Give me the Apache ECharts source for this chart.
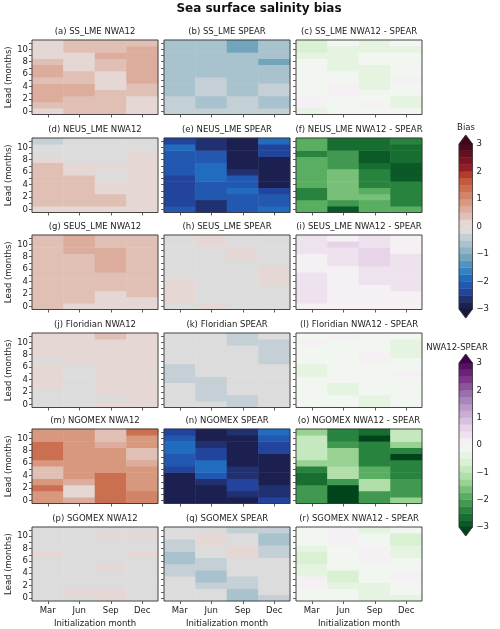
<!DOCTYPE html>
<html><head><meta charset="utf-8">
<script src="https://cdn.jsdelivr.net/npm/echarts@6/dist/echarts.min.js"></script>
<style>html,body{margin:0;padding:0;background:#fff}#c{width:500px;height:629px}</style>
</head><body><div id="c"></div>
<script>
// ---------------- data ----------------
const months = ['Mar', 'Jun', 'Sep', 'Dec'];
const leads = [0, 1, 2, 3, 4, 5, 6, 7, 8, 9, 10, 11];
const regions = ['SS_LME', 'NEUS_LME', 'SEUS_LME', 'Floridian', 'NGOMEX', 'SGOMEX'];
const letters = ['a','b','c','d','e','f','g','h','i','j','k','l','m','n','o','p','q','r'];
const colorbarTicks = [-3, -2, -1, 0, 1, 2, 3];

// each panel: one array per initialization month (Mar, Jun, Sep, Dec), values for lead 0..11
const ssNwa12 = [
  [0.1,0.35,0.6,0.6,0.6,0.35,0.6,0.6,0.35,0.1,0.1,0.1],
  [0.35,0.35,0.35,0.6,0.6,0.35,0.35,0.1,0.1,0.1,0.35,0.35],
  [0.35,0.35,0.35,0.35,0.1,0.1,0.1,0.35,0.35,0.6,0.35,0.35],
  [0.1,0.1,0.1,0.35,0.35,0.6,0.6,0.6,0.6,0.6,0.6,0.35]];
const ssSpear = [
  [-0.4,-0.4,-0.4,-0.6,-0.6,-0.6,-0.6,-0.6,-0.6,-0.6,-0.6,-0.6],
  [-0.4,-0.6,-0.6,-0.4,-0.4,-0.4,-0.6,-0.6,-0.6,-0.6,-0.6,-0.6],
  [-0.4,-0.4,-0.4,-0.6,-0.6,-0.6,-0.6,-0.6,-0.6,-0.6,-1.1,-1.1],
  [-0.4,-0.6,-0.6,-0.4,-0.4,-0.6,-0.6,-0.6,-1.1,-0.6,-0.6,-0.6]];
const ssDiff = [
  [-0.4,0.1,0.1,-0.1,-0.1,-0.1,-0.1,-0.1,-0.1,-0.3,-0.6,-0.6],
  [-0.1,-0.1,-0.1,0.1,0.1,-0.1,-0.1,-0.3,-0.3,-0.3,-0.3,-0.1],
  [-0.1,0.1,-0.1,-0.1,-0.3,-0.3,-0.3,-0.3,-0.1,-0.1,-0.3,-0.3],
  [-0.1,-0.4,-0.4,-0.1,-0.1,0.1,-0.1,-0.1,-0.1,-0.1,-0.3,-0.1]];
const neusNwa12 = [
  [0.1,0.35,0.35,0.35,0.35,0.35,0.35,0.35,0.1,-0.1,-0.1,-0.4],
  [0.1,0.35,0.35,0.35,0.35,0.35,0.1,0.1,-0.1,-0.1,-0.1,-0.1],
  [0.1,0.35,0.35,0.1,0.1,-0.1,-0.1,0.1,-0.1,-0.1,-0.1,-0.1],
  [0.1,0.1,0.1,0.1,0.1,0.1,0.1,0.1,0.1,0.1,-0.1,-0.1]];
const neusSpear = [
  [-2.1,-2.4,-2.4,-2.4,-2.4,-2.4,-2.1,-2.1,-2.1,-2.1,-1.9,-2.4],
  [-2.6,-2.6,-2.1,-2.1,-2.1,-1.9,-1.9,-1.9,-2.1,-2.1,-2.6,-2.6],
  [-2.1,-2.1,-2.1,-1.9,-2.1,-2.1,-2.6,-2.9,-2.9,-2.9,-2.9,-2.9],
  [-1.9,-2.1,-2.1,-2.4,-2.9,-2.9,-2.9,-2.9,-2.9,-2.4,-2.4,-1.9]];
const neusDiff = [
  [-1.9,-1.9,-2.3,-2.3,-2.0,-2.0,-2.0,-2.0,-2.0,-2.3,-1.9,-1.9],
  [-2.9,-2.1,-1.6,-1.6,-1.6,-1.6,-1.6,-2.1,-2.1,-2.1,-2.6,-2.6],
  [-2.0,-2.0,-1.6,-2.0,-2.3,-2.3,-2.3,-2.6,-2.9,-2.9,-2.6,-2.6],
  [-2.0,-2.3,-2.3,-2.3,-2.3,-2.9,-2.9,-2.9,-2.6,-2.6,-2.6,-2.3]];
const seusNwa12 = [
  [0.35,0.35,0.35,0.35,0.35,0.35,0.35,0.35,0.35,0.35,0.35,0.35],
  [0.1,0.35,0.35,0.35,0.35,0.35,0.35,0.35,0.35,0.6,0.6,0.6],
  [0.1,0.1,0.1,0.35,0.35,0.35,0.6,0.6,0.6,0.6,0.35,0.35],
  [0.1,0.1,0.35,0.35,0.35,0.35,0.35,0.35,0.35,0.35,0.35,0.35]];
const seusSpear = [
  [-0.1,0.1,0.1,0.1,0.1,-0.1,-0.1,-0.1,-0.1,-0.1,-0.1,-0.1],
  [0.1,-0.1,-0.1,-0.1,-0.1,-0.1,-0.1,-0.1,-0.1,-0.1,0.1,0.1],
  [-0.1,-0.1,-0.1,-0.1,-0.1,-0.1,-0.1,-0.1,0.1,0.1,-0.1,-0.1],
  [-0.1,-0.1,-0.1,-0.1,0.1,0.1,0.1,-0.1,-0.1,-0.1,-0.1,-0.1]];
const seusDiff = [
  [0.1,0.35,0.35,0.35,0.35,0.35,0.1,0.1,0.1,0.35,0.35,0.35],
  [0.1,0.1,0.1,0.1,0.1,0.1,0.1,0.35,0.35,0.35,0.6,0.1],
  [0.1,0.1,0.1,0.1,0.35,0.35,0.35,0.6,0.6,0.6,0.35,0.35],
  [0.1,0.1,0.1,0.35,0.35,0.35,0.35,0.35,0.35,0.1,0.1,0.1]];
const florNwa12 = [
  [-0.1,-0.1,-0.1,0.1,0.1,0.1,0.1,-0.1,0.1,0.1,0.1,0.1],
  [-0.1,-0.1,-0.1,-0.1,-0.1,-0.1,-0.1,0.1,0.1,0.1,0.1,0.1],
  [0.1,-0.1,0.1,0.1,0.1,0.1,0.1,0.1,0.1,0.1,0.1,0.35],
  [0.1,0.1,0.1,0.1,0.1,0.1,0.1,0.1,0.1,0.1,0.1,0.1]];
const florSpear = [
  [-0.1,-0.1,-0.1,-0.1,-0.4,-0.4,-0.4,-0.1,-0.1,-0.1,-0.1,-0.1],
  [-0.1,-0.4,-0.4,-0.4,-0.4,-0.1,-0.1,-0.1,-0.1,-0.1,-0.1,-0.1],
  [-0.4,-0.4,-0.1,-0.1,-0.1,-0.1,-0.1,-0.1,-0.1,-0.1,-0.4,-0.4],
  [-0.1,-0.1,-0.1,-0.1,-0.1,-0.1,-0.1,-0.4,-0.4,-0.4,-0.4,-0.1]];
const florDiff = [
  [-0.1,-0.1,-0.1,-0.1,-0.1,-0.35,-0.35,-0.1,-0.1,-0.1,0.1,-0.1],
  [-0.1,-0.1,-0.35,-0.35,-0.1,-0.1,-0.1,-0.1,-0.1,-0.1,-0.1,0.1],
  [-0.35,-0.35,-0.1,-0.1,-0.1,-0.1,-0.1,0.1,0.1,-0.1,-0.1,-0.1],
  [-0.1,-0.1,-0.1,-0.1,-0.1,0.1,-0.1,-0.1,-0.35,-0.35,-0.35,-0.1]];
const ngomNwa12 = [
  [0.9,0.9,1.3,0.9,0.35,0.35,0.9,1.3,1.3,1.3,0.9,0.9],
  [0.6,0.1,0.1,0.6,0.9,0.9,0.9,0.9,0.9,0.9,0.9,0.9],
  [1.3,1.3,1.3,1.3,1.3,0.9,0.9,0.9,0.9,0.6,0.35,0.35],
  [1.1,1.1,0.9,0.9,0.9,0.9,0.6,0.35,0.35,0.9,0.9,1.3]];
const ngomSpear = [
  [-2.9,-2.9,-2.9,-2.9,-2.9,-2.4,-2.1,-2.1,-1.8,-1.8,-2.1,-2.4],
  [-2.9,-2.9,-2.9,-2.6,-2.1,-1.9,-1.9,-2.4,-2.4,-2.6,-2.9,-2.9],
  [-2.9,-2.6,-2.4,-2.4,-2.6,-2.6,-2.9,-2.9,-2.9,-2.9,-2.9,-2.6],
  [-2.3,-2.6,-2.6,-2.9,-2.9,-2.9,-2.9,-2.9,-2.4,-2.4,-2.1,-1.8]];
const ngomDiff = [
  [-2.1,-2.1,-2.1,-2.6,-2.6,-2.3,-1.4,-0.9,-0.9,-0.9,-0.9,-1.3],
  [-3.1,-3.1,-3.1,-2.1,-1.1,-1.1,-1.4,-1.4,-1.4,-2.1,-2.4,-2.4],
  [-2.2,-2.2,-1.1,-1.1,-1.9,-1.9,-2.3,-2.3,-2.5,-2.5,-3.1,-2.6],
  [-1.5,-2.1,-2.1,-2.1,-2.3,-2.3,-2.5,-3.1,-2.5,-1.3,-1.0,-1.0]];
const sgomNwa12 = [
  [-0.1,-0.1,-0.1,-0.1,-0.1,-0.1,-0.1,0.1,-0.1,-0.1,-0.1,-0.1],
  [-0.1,0.1,-0.1,-0.1,-0.1,-0.1,-0.1,-0.1,-0.1,-0.1,-0.1,-0.1],
  [0.1,0.1,-0.1,-0.1,-0.1,0.1,-0.1,-0.1,-0.1,-0.1,0.1,-0.1],
  [-0.1,-0.1,-0.1,-0.1,-0.1,-0.1,-0.1,0.1,-0.1,-0.1,0.1,-0.1]];
const sgomSpear = [
  [-0.1,-0.1,-0.1,-0.1,-0.4,-0.4,-0.7,-0.7,-0.4,-0.4,-0.1,-0.1],
  [-0.1,-0.1,-0.4,-0.7,-0.7,-0.4,-0.4,-0.1,-0.1,0.1,0.1,-0.1],
  [-0.7,-0.7,-0.4,-0.4,-0.1,-0.1,-0.1,0.1,0.1,-0.1,-0.1,-0.4],
  [-0.4,-0.1,-0.1,-0.1,-0.1,-0.1,-0.1,-0.4,-0.4,-0.7,-0.7,-0.4]];
const sgomDiff = [
  [-0.1,-0.1,0.1,0.1,-0.35,-0.35,-0.6,-0.6,-0.35,-0.1,-0.1,-0.1],
  [-0.1,-0.1,-0.35,-0.6,-0.6,-0.1,-0.1,-0.1,-0.1,0.1,0.1,0.1],
  [-0.35,-0.35,-0.35,-0.1,-0.1,-0.1,0.1,0.1,0.1,-0.1,-0.1,-0.35],
  [-0.35,-0.1,-0.1,0.1,0.1,-0.1,-0.1,-0.35,-0.35,-0.6,-0.6,-0.1]];

const panelRows = [
  [ssNwa12, ssSpear, ssDiff],
  [neusNwa12, neusSpear, neusDiff],
  [seusNwa12, seusSpear, seusDiff],
  [florNwa12, florSpear, florDiff],
  [ngomNwa12, ngomSpear, ngomDiff],
  [sgomNwa12, sgomSpear, sgomDiff]];
const columnSuffix = ['NWA12', 'SPEAR', 'NWA12 - SPEAR'];

// ---------------- styles ----------------
const FONT = 'DejaVu Sans';
const biasBins = ['#1c2050','#203070','#22449c','#2258b0','#226cc0','#3482c4','#5094c0','#72a4bc',
  '#90b4c4','#a8c2ce','#c4d0d6','#dcdcdc','#e5d7d3','#e0c0b4','#dcac9c','#d8987e','#d28468',
  '#ca7050','#c45a3c','#b03e2e','#961c28','#7c1424','#64101f','#4a0c1c'];
const biasUnder = '#161a3a', biasOver = '#3a0a1a';
const prgnAnchors = ['#40004b','#762a83','#9970ab','#c2a5cf','#e7d4e8','#f7f7f7','#d9f0d3','#a6dba0','#5aae61','#1b7837','#00441b'];
function hex2rgb(h){return [parseInt(h.slice(1,3),16),parseInt(h.slice(3,5),16),parseInt(h.slice(5,7),16)];}
function prgnR(t){ // reversed PRGn: 0 -> green, 1 -> purple
  const u = (1 - t) * 10; const i = Math.min(9, Math.floor(u)); const f = u - i;
  const a = hex2rgb(prgnAnchors[i]), b = hex2rgb(prgnAnchors[i+1]);
  return 'rgb(' + a.map((v,j)=>Math.round(v + (b[j]-v)*f)).join(',') + ')';
}
const diffBins = []; for (let k = 0; k < 24; k++) diffBins.push(prgnR((k+1)/25));
const diffUnder = prgnR(0), diffOver = prgnR(1);

function makePieces(bins, under, over){
  const p = [{lt: -3, color: under}];
  for (let k = 0; k < 24; k++) p.push({gte: -3 + 0.25*k, lt: -3 + 0.25*(k+1), color: bins[k]});
  p.push({gte: 3, color: over});
  return p;
}

const colLeft = [32, 164, 296];
const panelW = 126;
const rowTop = [40, 138, 235, 333, 429, 527];
const panelH = 74.5;

const grids = [], xAxes = [], yAxes = [], series = [], titles = [];
const biasIdx = [], diffIdx = [];
titles.push({text: 'Sea surface salinity bias', left: 259, top: 3, textAlign: 'center', padding: 0,
  textStyle: {fontSize: 12, fontWeight: 'bold', color: '#111', fontFamily: FONT}});

for (let r = 0; r < 6; r++) {
  for (let c = 0; c < 3; c++) {
    const gi = r*3 + c;
    grids.push({left: colLeft[c], top: rowTop[r], width: panelW, height: panelH, show: true,
      borderColor: '#333', borderWidth: 0.9, backgroundColor: 'transparent', z: 5});
    const lastRow = r === 5;
    xAxes.push({type: 'category', gridIndex: gi, data: months,
      axisLine: {show: false},
      axisTick: {show: true, alignWithLabel: true, interval: 0, length: 3, lineStyle: {color: '#333', width: 0.8}},
      axisLabel: {show: lastRow, fontSize: 8.5, margin: 5, color: '#222', fontFamily: FONT},
      splitLine: {show: false},
      name: lastRow ? 'Initialization month' : '', nameLocation: 'middle', nameGap: 18,
      nameTextStyle: {fontSize: 8.5, color: '#222', fontFamily: FONT}});
    yAxes.push({type: 'category', gridIndex: gi, data: leads,
      axisLine: {show: false},
      axisTick: {show: true, alignWithLabel: true, interval: 0, length: 3, lineStyle: {color: '#333', width: 0.8}},
      axisLabel: {show: c === 0, interval: 1, fontSize: 8.5, margin: 4, color: '#222', fontFamily: FONT},
      splitLine: {show: false},
      name: c === 0 ? 'Lead (months)' : '', nameLocation: 'middle', nameGap: 19,
      nameTextStyle: {fontSize: 8.5, color: '#222', fontFamily: FONT}});
    const arr = panelRows[r][c];
    const data = [];
    for (let m = 0; m < months.length; m++)
      for (let l = 0; l < leads.length; l++) data.push([m, l, arr[m][l]]);
    (c === 2 ? diffIdx : biasIdx).push(series.length);
    series.push({type: 'heatmap', xAxisIndex: gi, yAxisIndex: gi, data: data, silent: true,
      itemStyle: {borderWidth: 0}, emphasis: {disabled: true}});
    titles.push({text: '(' + letters[gi] + ') ' + regions[r] + ' ' + columnSuffix[c],
      left: colLeft[c] + panelW/2, top: rowTop[r] - 13, textAlign: 'center', padding: 0,
      textStyle: {fontSize: 8.5, fontWeight: 'normal', color: '#222', fontFamily: FONT}});
  }
}

// colorbars
const EXT = 0.33;
function addColorbar(gi, top, height, bins, under, over){
  grids.push({left: 459, top: top, width: 13.5, height: height, show: false});
  xAxes.push({type: 'value', gridIndex: gi, min: 0, max: 1, show: false});
  yAxes.push({type: 'value', gridIndex: gi, min: -3, max: 3, interval: 1, position: 'right',
    axisLine: {show: false}, splitLine: {show: false},
    axisTick: {show: true, length: 3.5, lineStyle: {color: '#333', width: 0.8}},
    axisLabel: {fontSize: 8.5, margin: 4, color: '#222', fontFamily: FONT,
      formatter: v => (colorbarTicks.indexOf(v) >= 0 ? String(v).replace('-', '\u2212') : '')}});
  const binData = [];
  for (let k = 0; k < 24; k++) binData.push([-3 + 0.25*k, -3 + 0.25*(k+1), k]);
  binData.push([-3, -3 - EXT, -1]);
  binData.push([3, 3 + EXT, 24]);
  series.push({type: 'custom', xAxisIndex: gi, yAxisIndex: gi, clip: false, silent: true, z: 3,
    data: binData,
    renderItem: function(params, api){
      const lo = api.value(0), hi = api.value(1), k = api.value(2);
      if (k >= 0 && k < 24) {
        const a = api.coord([0, hi]), b = api.coord([1, lo]);
        return {type: 'rect', shape: {x: a[0], y: a[1], width: b[0]-a[0], height: b[1]-a[1]},
          style: {fill: bins[k], stroke: bins[k], lineWidth: 0.4}};
      }
      const col = k < 0 ? under : over;
      return {type: 'polygon', shape: {points: [api.coord([0, lo]), api.coord([1, lo]), api.coord([0.5, hi])]},
        style: {fill: col, stroke: col, lineWidth: 0.4}};
    }});
  series.push({type: 'custom', xAxisIndex: gi, yAxisIndex: gi, clip: false, silent: true, z: 4,
    data: [[0.5, 0]],
    renderItem: function(params, api){
      const pts = [api.coord([0.5, -3 - EXT]), api.coord([0, -3]), api.coord([0, 3]), api.coord([0.5, 3 + EXT]),
        api.coord([1, 3]), api.coord([1, -3])];
      return {type: 'polygon', shape: {points: pts}, style: {fill: 'none', stroke: '#333', lineWidth: 0.8}};
    }});
}
addColorbar(18, 144, 165, biasBins, biasUnder, biasOver);
addColorbar(19, 363, 164, diffBins, diffUnder, diffOver);
titles.push({text: 'Bias', left: 466, top: 123, textAlign: 'center', padding: 0,
  textStyle: {fontSize: 8.5, fontWeight: 'normal', color: '#222', fontFamily: FONT}});
titles.push({text: 'NWA12-SPEAR', left: 457, top: 343, textAlign: 'center', padding: 0,
  textStyle: {fontSize: 8.5, fontWeight: 'normal', color: '#222', fontFamily: FONT}});

const option = {
  backgroundColor: '#fff',
  animation: false,
  textStyle: {fontFamily: FONT},
  title: titles,
  grid: grids,
  xAxis: xAxes,
  yAxis: yAxes,
  visualMap: [
    {type: 'piecewise', show: false, dimension: 2, seriesIndex: biasIdx, pieces: makePieces(biasBins, biasUnder, biasOver)},
    {type: 'piecewise', show: false, dimension: 2, seriesIndex: diffIdx, pieces: makePieces(diffBins, diffUnder, diffOver)}
  ],
  series: series
};
const chart = echarts.init(document.getElementById('c'), null, {renderer: 'canvas'});
chart.setOption(option);
</script>
</body></html>
